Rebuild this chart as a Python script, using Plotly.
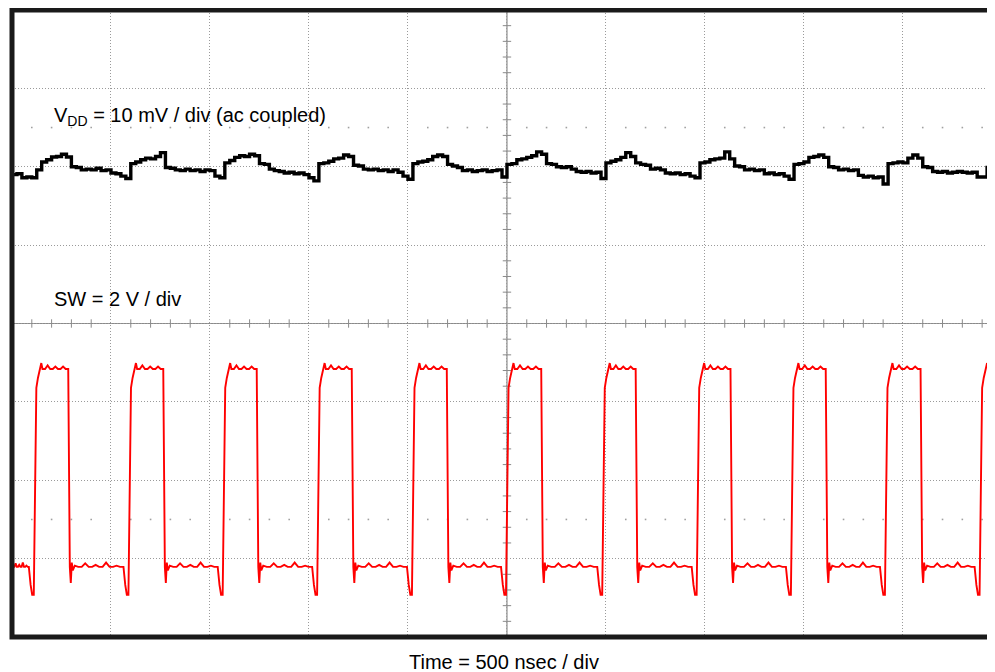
import numpy as np
import plotly.graph_objects as go

# ---------------- data ----------------
NS_PER_DIV = 500
X_MAX_NS = 4965            # visible part of the 10-div screen
SW_V_PER_DIV = 2           # SW = 2 V / div
VDD_MV_PER_DIV = 10        # VDD = 10 mV / div (ac coupled)
SW_GND_DIV = -3            # channel-2 ground marker
VDD_REF_DIV = 2            # channel-1 reference marker

# switching node edge times (ns)
SW_RISE_NS = [114, 592, 1068, 1545, 2024, 2499, 2985, 3462, 3938, 4413, 4891]
SW_FALL_NS = [287, 767, 1239, 1719, 2199, 2676, 3153, 3632, 4113, 4592]
SW_LOW_V = -0.21
SW_HIGH_V = 4.84

# waveform detail around a rising edge (offset ns, volts)
RISE_DT = [-29, -20, -12, -4, 3, 9, 17, 30, 34, 40]
RISE_V = [-0.21, -0.67, -0.92, -0.92, 3.03, 4.36, 4.61, 4.87, 4.99, 4.84]
# waveform detail around a falling edge (offset ns, volts)
FALL_DT = [-3, 2, 5, 10, 15, 20, 30]
FALL_V = [4.84, 1.24, -0.21, -0.62, -0.10, -0.30, -0.18]
# small ripple seen on the plateaus (volts)
LOW_RIPPLE_V = [-0.21, -0.21, -0.12, -0.21, -0.21, -0.16, -0.21, -0.21,
                -0.10, -0.21, -0.21, -0.18, -0.21]
HIGH_RIPPLE_V = [4.84, 4.93, 4.84, 4.84, 4.90, 4.84, 4.84, 4.90, 4.84]

# VDD ripple (mV), one sample every 25 ns starting at 0 ns
VDD_STEP_NS = 25
VDD_MV = [
    -1.0, -0.9, -1.4, -1.3, -1.4, -0.4, 0.6, 0.9, 1.25, 1.3,
    1.6, 1.25, 0.0, -0.1, -0.4, -0.3, -0.4, -0.2, -0.5, -0.4,
    -0.8, -0.9, -1.2, -1.5, 0.4, 0.6, 0.9, 1.1, 1.0, 1.3,
    1.8, -0.1, -0.2, -0.4, -0.5, -0.3, -0.5, -0.4, -0.6, -0.4,
    -0.5, -1.2, -1.4, 0.5, 0.8, 1.2, 1.4, 1.3, 1.6, 1.4,
    0.4, 0.3, -0.3, -0.5, -0.6, -0.8, -0.7, -0.9, -0.8, -1.0,
    -1.4, -1.8, 0.4, 0.5, 0.7, 1.0, 1.1, 1.5, 1.3, 0.2,
    0.1, -0.3, -0.4, -0.3, -0.5, -0.4, -0.6, -0.4, -0.7, -1.2,
    -1.6, 0.4, 0.6, 0.7, 0.9, 1.3, 1.5, 1.3, 0.3, 0.1,
    -0.1, -0.5, -0.4, -0.6, -0.5, -0.4, -0.6, -0.5, -0.4, -1.3,
    0.3, 0.4, 0.9, 1.0, 1.2, 1.4, 1.9, 1.6, 0.4, 0.3,
    0.0, -0.1, 0.0, -0.3, -0.6, -0.7, -0.6, -0.8, -0.7, -1.5,
    0.5, 0.7, 0.9, 1.2, 1.8, 1.3, 0.5, 0.3, 0.2, -0.3,
    -0.2, -0.4, -0.8, -0.9, -0.8, -1.0, -0.9, -1.2, -1.4, 0.5,
    0.6, 0.9, 1.0, 1.1, 1.9, 1.0, 0.1, 0.0, -0.4, -0.3,
    -0.5, -0.4, -0.9, -0.8, -1.0, -0.9, -1.2, -1.6, 0.3, 0.4,
    0.6, 1.2, 1.3, 1.5, 1.2, 0.0, -0.1, -0.4, -0.3, -0.5,
    -0.4, -1.1, -1.3, -1.2, -1.4, -1.3, -2.2, 0.4, 0.5, 0.6,
    0.5, 1.1, 1.5, 1.1, 0.0, -0.1, -0.6, -0.7, -0.6, -0.8,
    -0.7, -0.6, -0.7, -0.8, -0.7, -1.3, -1.3, -0.1, -0.2,
]

LABEL_VDD = "V<sub>DD</sub> = 10 mV / div (ac coupled)"
LABEL_SW = "SW = 2 V / div"
LABEL_TIME = "Time = 500 nsec / div"

# ---------------- build the SW trace ----------------
events = sorted([(t, "r") for t in SW_RISE_NS] + [(t, "f") for t in SW_FALL_NS])
t_sw, v_sw = [0.0], [SW_LOW_V]
prev_end = 0.0
for t_e, kind in events:
    dts, vs = (RISE_DT, RISE_V) if kind == "r" else (FALL_DT, FALL_V)
    ripple = LOW_RIPPLE_V if kind == "r" else HIGH_RIPPLE_V
    start = t_e + dts[0]
    ts = np.linspace(prev_end, start, len(ripple) + 2)[1:-1]
    t_sw += list(ts)
    v_sw += ripple
    t_sw += [t_e + d for d in dts]
    v_sw += vs
    prev_end = t_e + dts[-1]
t_sw += [X_MAX_NS + 20]
v_sw += [SW_HIGH_V]
y_sw = [SW_GND_DIV + v / SW_V_PER_DIV for v in v_sw]

t_vdd = [i * VDD_STEP_NS for i in range(len(VDD_MV))] + [X_MAX_NS + 20]
y_vdd = [VDD_REF_DIV + m / VDD_MV_PER_DIV for m in VDD_MV] + [VDD_REF_DIV + VDD_MV[-1] / VDD_MV_PER_DIV]

fig = go.Figure()

# graticule decorations: ticks on centre lines, dotted rows
sub = NS_PER_DIV / 5
tick_x = [k * sub for k in range(1, 50) if k % 5 != 0]
tick_y = [k * 0.2 for k in range(-19, 20) if k % 5 != 0]
fig.add_trace(go.Scatter(x=tick_x, y=[0] * len(tick_x), mode="markers",
                         marker=dict(symbol="line-ns", size=6, line=dict(width=1, color="#8a8a8a")),
                         hoverinfo="skip"))
fig.add_trace(go.Scatter(x=[2500] * len(tick_y), y=tick_y, mode="markers",
                         marker=dict(symbol="line-ew", size=6, line=dict(width=1, color="#8a8a8a")),
                         hoverinfo="skip"))
fig.add_trace(go.Scatter(x=tick_x + tick_x, y=[2.5] * len(tick_x) + [-2.5] * len(tick_x),
                         mode="markers", marker=dict(symbol="square", size=1.6, color="#a0a0a0"),
                         hoverinfo="skip"))

fig.add_trace(go.Scatter(x=t_vdd, y=y_vdd, mode="lines", line=dict(color="black", width=3.4, shape="hv"),
                         name="VDD"))
fig.add_trace(go.Scatter(x=t_sw, y=y_sw, mode="lines", line=dict(color="#ff0000", width=1.9),
                         name="SW"))

# channel reference markers
fig.add_trace(go.Scatter(x=[-30, -30], y=[VDD_REF_DIV, SW_GND_DIV], mode="markers", cliponaxis=False,
                         marker=dict(symbol="triangle-right", size=6, color="black"), hoverinfo="skip"))

axis_common = dict(showgrid=True, gridcolor="#9a9a9a", griddash="1px,2px", gridwidth=1,
                   showticklabels=False, zeroline=False, ticks="", showline=False, fixedrange=True)
fig.update_layout(
    width=987, height=664,
    margin=dict(l=4, r=0, t=2, b=35),
    paper_bgcolor="white", plot_bgcolor="white", showlegend=False,
    xaxis=dict(range=[0, X_MAX_NS], tick0=0, dtick=NS_PER_DIV, **axis_common),
    yaxis=dict(range=[-4, 4], tick0=0, dtick=1, **axis_common),
    font=dict(family="Liberation Sans, Arial, sans-serif", color="black"),
    shapes=[
        dict(type="line", xref="x", yref="y", x0=2500, x1=2500, y0=-4, y1=4,
             line=dict(color="#8a8a8a", width=1.2), layer="below"),
        dict(type="line", xref="x", yref="y", x0=0, x1=X_MAX_NS, y0=0, y1=0,
             line=dict(color="#8a8a8a", width=1.2), layer="below"),
        dict(type="rect", xref="paper", yref="paper", x0=0, x1=1.05, y0=0, y1=1,
             line=dict(color="#1a1a1a", width=5), fillcolor="rgba(0,0,0,0)", layer="above"),
    ],
    annotations=[
        dict(x=200, y=2.64, xref="x", yref="y", text=LABEL_VDD, showarrow=False,
             xanchor="left", yanchor="middle", font=dict(size=20)),
        dict(x=200, y=0.31, xref="x", yref="y", text=LABEL_SW, showarrow=False,
             xanchor="left", yanchor="middle", font=dict(size=20)),
        dict(x=0.5, y=-0.04, xref="paper", yref="paper", text=LABEL_TIME, showarrow=False,
             xanchor="center", yanchor="middle", font=dict(size=20)),
    ],
)

fig.write_html("out.html")
